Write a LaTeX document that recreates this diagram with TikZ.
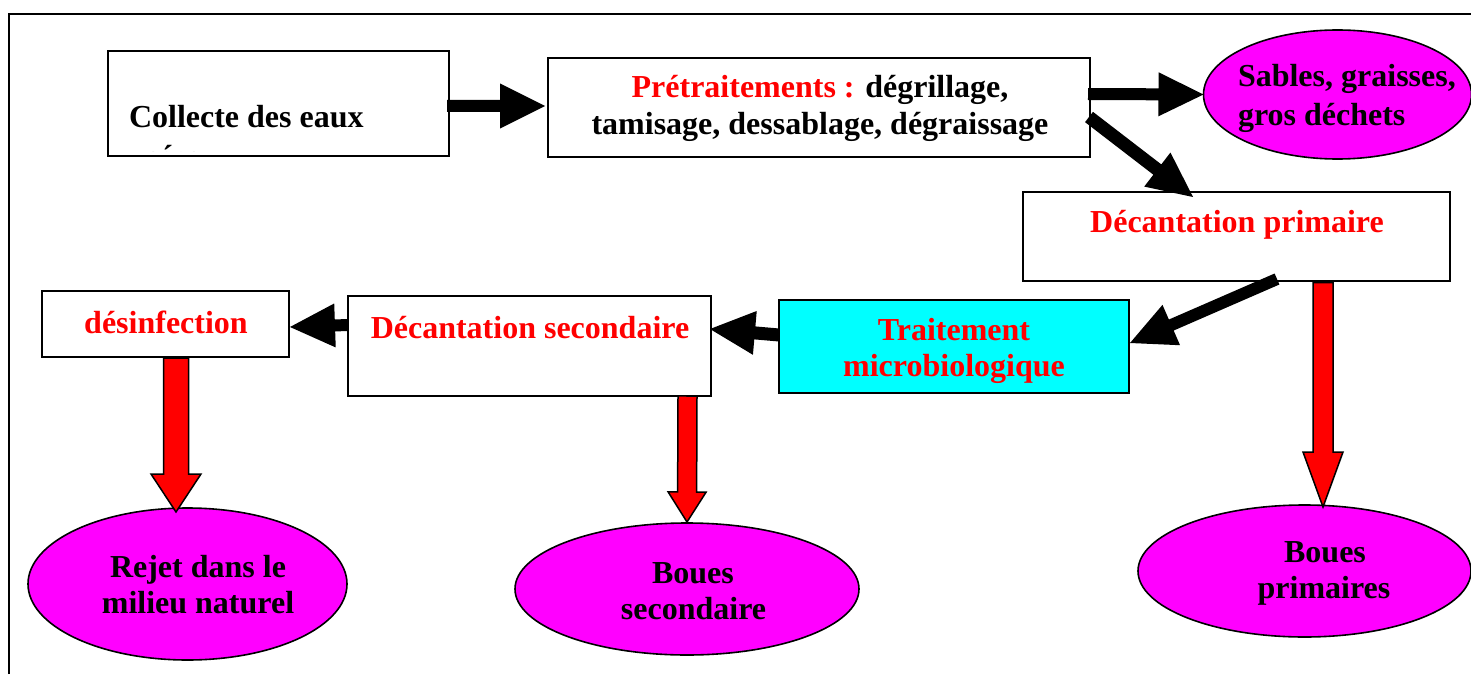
\documentclass[tikz,border=0pt]{standalone}
\usepackage{fontspec}
\setmainfont{Liberation Serif}
\usetikzlibrary{calc,shapes.geometric}
\definecolor{stagered}{RGB}{255,0,0}
\definecolor{sludge}{RGB}{255,0,255}
\definecolor{biocyan}{RGB}{0,255,255}

% Block arrow: #1 start, #2 tip, #3 shaft half width, #4 head half width,
% #5 head length, #6 drawing style
\newcommand\blockarrow[6]{%
  \coordinate (ba-base) at ($(#2)!#5!(#1)$);
  \path[#6] ($(#1)!#3!90:(#2)$) -- ($(ba-base)!#3!90:(#2)$)
    -- ($(ba-base)!#4!90:(#2)$) -- (#2)
    -- ($(ba-base)!#4!-90:(#2)$) -- ($(ba-base)!#3!-90:(#2)$)
    -- ($(#1)!#3!-90:(#2)$) -- cycle;
}

\tikzset{
  stagebox/.style={rectangle, draw=black, line width=2pt, inner sep=0pt, outer sep=0pt},
  sludgepot/.style={ellipse, draw=black, fill=sludge, line width=1.6pt, inner sep=0pt, outer sep=0pt},
  txt/.style={inner sep=0pt, outer sep=0pt, font=\fontsize{32}{38}\selectfont\bfseries},
  flowarrow/.style={fill=black},
  sludgearrow/.style={fill=stagered, draw=black, line width=1.5pt, line join=miter},
}

\begin{document}
\begin{tikzpicture}[x=1pt, y=-1pt]
\useasboundingbox (0,0) rectangle (1471,674);

% page frame
\draw[line width=2pt] (9,674) -- (9,14) -- (1471,14);

% treatment stages
\node[stagebox, minimum width=341pt, minimum height=105pt] (collecte) at (278.5,103.5) {};
\node[stagebox, minimum width=542pt, minimum height=99pt]  (pre)      at (819,107.5) {};
\node[stagebox, minimum width=427pt, minimum height=89pt]  (dprim)    at (1236.5,236.5) {};
\node[stagebox, minimum width=247pt, minimum height=66pt]  (desinf)   at (165.5,324) {};
\node[stagebox, minimum width=363pt, minimum height=100pt] (dsec)     at (529.5,346) {};
\node[stagebox, fill=biocyan, minimum width=350pt, minimum height=93pt] (bio) at (954,346.5) {};

% outputs
\node[sludgepot, minimum width=268pt, minimum height=129pt] (sables) at (1337.5,94.5) {};
\node[sludgepot, minimum width=333pt, minimum height=132pt] (bprim)  at (1304.5,571) {};
\node[sludgepot, minimum width=344pt, minimum height=132pt] (bsec)   at (687,589) {};
\node[sludgepot, minimum width=319pt, minimum height=152pt] (rejet)  at (187.5,584) {};

% labels
\node[txt, anchor=base west] (collecteTxt) at (129,128) {Collecte des eaux};
\begin{scope}
  % second line overflows the box: only the accent stays visible
  \clip (110,53) rectangle (447,151);
  \node[txt, anchor=base west] (useesTxt) at (129,167.5) {usées};
\end{scope}
\node[txt, anchor=base] (preTxtA) at (820,98) {{\color{stagered}Prétraitements :} dégrillage,};
\node[txt, anchor=base] (preTxtB) at (820,135) {tamisage, dessablage, dégraissage};
\node[txt, anchor=base west] (sablesTxtA) at (1238,87) {Sables, graisses,};
\node[txt, anchor=base west] (sablesTxtB) at (1238,125) {gros déchets};
\node[txt, anchor=base, text=stagered] (dprimTxt) at (1237,232) {Décantation primaire};
\node[txt, anchor=base, text=stagered] (desinfTxt) at (166,333) {désinfection};
\node[txt, anchor=base, text=stagered] (dsecTxt) at (530,338) {Décantation secondaire};
\node[txt, anchor=base, text=stagered] (bioTxtA) at (954,340) {Traitement};
\node[txt, anchor=base, text=stagered] (bioTxtB) at (954,376) {microbiologique};
\node[txt, anchor=base] (rejetTxtA) at (198,577) {Rejet dans le};
\node[txt, anchor=base] (rejetTxtB) at (198,613) {milieu naturel};
\node[txt, anchor=base] (bsecTxtA) at (693,583) {Boues};
\node[txt, anchor=base] (bsecTxtB) at (693.5,619) {secondaire};
\node[txt, anchor=base] (bprimTxtA) at (1325,562) {Boues};
\node[txt, anchor=base] (bprimTxtB) at (1324,598) {primaires};

% arrow end points
\coordinate (a1s) at ($(collecte.east)+(-2,2.5)$);
\coordinate (a1e) at ($(pre.west)+(-3,-1.5)$);
\coordinate (a2s) at ($(pre.east)+(-2,-13.5)$);
\coordinate (a2e) at (sables.west);
\coordinate (a3s) at ($(pre.east)+(-1,9.5)$);
\coordinate (a3e) at ($(dprim.north west)+(170,5)$);
\coordinate (a4s) at ($(dprim.south east)+(-173,-2)$);
\coordinate (a4e) at ($(bio.east)+(1,-3.5)$);
\coordinate (a5s) at ($(bio.west)+(0,-11.5)$);
\coordinate (a5e) at ($(dsec.east)+(-1,-17)$);
\coordinate (a6s) at ($(dsec.west)+(0,-21)$);
\coordinate (a6e) at ($(desinf.east)+(1,3)$);
\coordinate (r1s) at ($(dprim.south)+(86.5,1.5)$);
\coordinate (r1e) at ($(bprim.north)+(18.5,2)$);
\coordinate (r2s) at ($(dsec.south -| bsec.north)+(0.5,0)$);
\coordinate (r2e) at ($(bsec.north)+(0,-1)$);
\coordinate (r3s) at ($(desinf.south)+(10.5,1)$);
\coordinate (r3e) at ($(rejet.north)+(-11.5,4)$);

% process flow
\blockarrow{a1s}{a1e}{6pt}{22.5pt}{45pt}{flowarrow}
\blockarrow{a2s}{a2e}{6pt}{22pt}{45pt}{flowarrow}
\blockarrow{a3s}{a3e}{6.5pt}{21.5pt}{45pt}{flowarrow}
\blockarrow{a4s}{a4e}{6pt}{22pt}{45pt}{flowarrow}
\blockarrow{a5s}{a5e}{6.5pt}{22pt}{45pt}{flowarrow}
\blockarrow{a6s}{a6e}{6pt}{22pt}{45pt}{flowarrow}

% sludge and discharge
\blockarrow{r1s}{r1e}{10pt}{20pt}{55pt}{sludgearrow}
\blockarrow{r2s}{r2e}{9.5pt}{19pt}{30pt}{sludgearrow}
\blockarrow{r3s}{r3e}{12.5pt}{25pt}{38pt}{sludgearrow}
\end{tikzpicture}
\end{document}
